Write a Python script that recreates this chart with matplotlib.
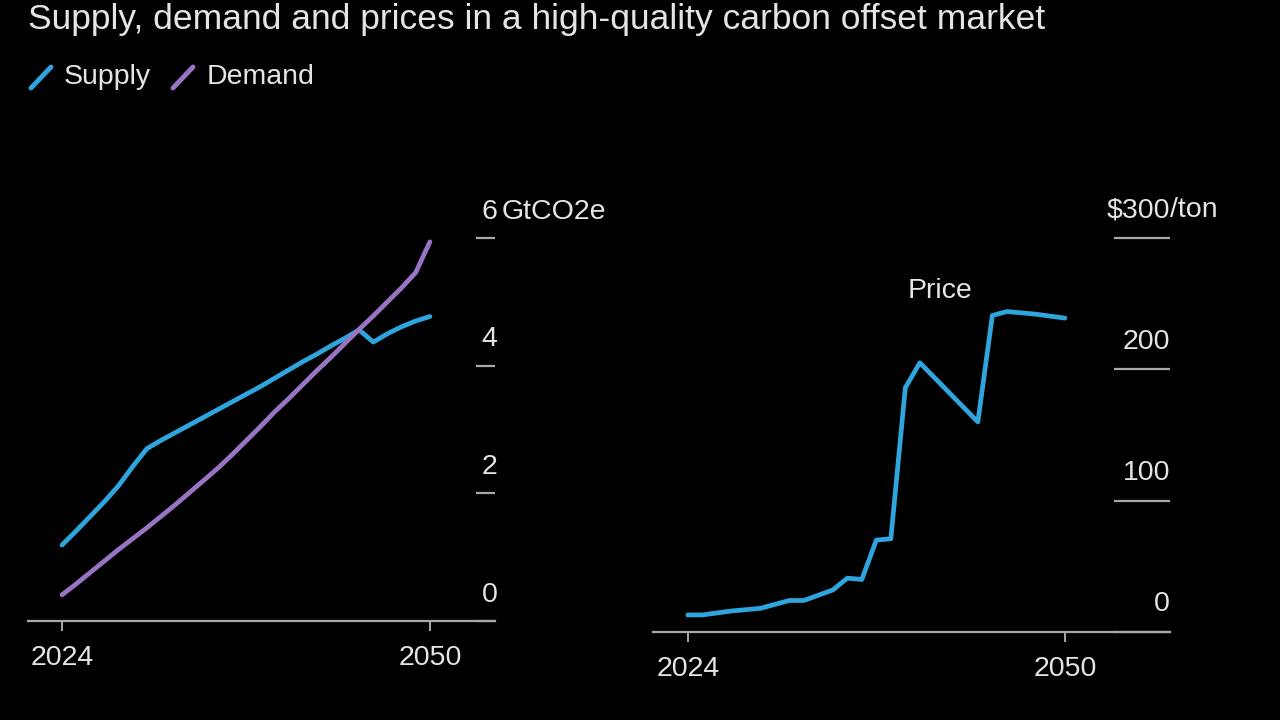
import numpy as np
import matplotlib
matplotlib.use('Agg')
import matplotlib.pyplot as plt
from matplotlib.lines import Line2D
import matplotlib.transforms as mtransforms

plt.rcParams['font.family'] = ['Liberation Sans', 'DejaVu Sans']

years = list(range(2024, 2051))
supply = [1.19, 1.41, 1.64, 1.87, 2.12, 2.42, 2.70, 2.83, 2.95, 3.07, 3.19, 3.31, 3.43,
          3.55, 3.67, 3.80, 3.93, 4.06, 4.18, 4.31, 4.43, 4.56, 4.37, 4.50, 4.61, 4.70, 4.77]
demand = [0.41, 0.58, 0.76, 0.94, 1.12, 1.29, 1.46, 1.64, 1.82, 2.01, 2.20, 2.39, 2.60,
          2.82, 3.04, 3.27, 3.48, 3.70, 3.92, 4.13, 4.35, 4.57, 4.78, 5.00, 5.22, 5.46, 5.94]
price = [13, 13, 14.5, 16, 17, 18, 21, 24, 24, 28, 32, 41, 40, 70, 71, 186, 205,
         193.75, 182.5, 171.25, 160, 241, 244, 243, 242, 240.5, 239]

vol_ticks = [0, 2, 4, 6]
price_ticks = [0, 100, 200, 300]
year_ticks = [2024, 2050]

BG = '#000000'
TXT = '#e4e4e4'
AXC = '#a8a8a8'
BLUE = '#2ea6dd'
PURPLE = '#9a74c4'
FS = 20.5
LW = 3.4

fig = plt.figure(figsize=(12.8, 7.2), dpi=100, facecolor=BG)


def style(ax, xlim, ylim, ticklen):
    ax.set_facecolor(BG)
    ax.set_xlim(*xlim)
    ax.set_ylim(*ylim)
    for s in ['left', 'right', 'top']:
        ax.spines[s].set_visible(False)
    ax.spines['bottom'].set_color(AXC)
    ax.spines['bottom'].set_linewidth(1.6)
    ax.set_xticks(year_ticks)
    ax.set_xticklabels([str(y) for y in year_ticks])
    ax.tick_params(axis='x', direction='out', length=7, width=1.4, color=AXC,
                   labelcolor=TXT, labelsize=FS, pad=10)
    ax.yaxis.tick_right()
    ax.tick_params(axis='y', direction='in', length=ticklen, width=1.6, color=AXC,
                   labelright=False, labelleft=False, pad=0)


# left panel: supply vs demand
ax1 = fig.add_axes([28 / 1280, 1 - 621 / 720, 467 / 1280, 383 / 720])
style(ax1, (2021.6, 2054.6), (0, 6), 14)
ax1.set_yticks(vol_ticks)
ax1.plot(years, supply, color=BLUE, lw=LW, clip_on=False, solid_capstyle='round')
ax1.plot(years, demand, color=PURPLE, lw=LW, clip_on=False, solid_capstyle='round')
tr1 = mtransforms.blended_transform_factory(ax1.transAxes, ax1.transData)
for v in vol_ticks:
    ax1.annotate(str(v), xy=(1.005, v), xycoords=tr1, xytext=(0, 19),
                 textcoords='offset points', ha='right', va='center',
                 color=TXT, fontsize=FS)
ax1.annotate('GtCO2e', xy=(1.005, 6), xycoords=tr1, xytext=(3, 19),
             textcoords='offset points', ha='left', va='center',
             color=TXT, fontsize=FS)

# right panel: price
ax2 = fig.add_axes([653 / 1280, 1 - 632 / 720, 517 / 1280, 394 / 720])
style(ax2, (2021.6, 2057.25), (0, 300), 40)
ax2.set_yticks(price_ticks)
ax2.plot(years, price, color=BLUE, lw=LW, clip_on=False, solid_capstyle='round')
tr2 = mtransforms.blended_transform_factory(ax2.transAxes, ax2.transData)
for v in price_ticks:
    lab = '$300' if v == 300 else str(v)
    ax2.annotate(lab, xy=(1.0, v), xycoords=tr2, xytext=(0, 20),
                 textcoords='offset points', ha='right', va='center',
                 color=TXT, fontsize=FS)
ax2.annotate('/ton', xy=(1.0, 300), xycoords=tr2, xytext=(0, 20),
             textcoords='offset points', ha='left', va='center',
             color=TXT, fontsize=FS)
ax2.text(2041.4, 260, 'Price', color=TXT, fontsize=FS, ha='center', va='center')

# title and legend
fig.text(28 / 1280, 1 - 19 / 720, 'Supply, demand and prices in a high-quality carbon offset market',
         color=TXT, fontsize=25.5, ha='left', va='center')
fig.add_artist(Line2D([31 / 1280, 51 / 1280], [1 - 88 / 720, 1 - 67 / 720],
                      color=BLUE, lw=3.5, solid_capstyle='round'))
fig.text(64 / 1280, 1 - 77 / 720, 'Supply', color=TXT, fontsize=FS, ha='left', va='center')
fig.add_artist(Line2D([173 / 1280, 193 / 1280], [1 - 88 / 720, 1 - 67 / 720],
                      color=PURPLE, lw=3.5, solid_capstyle='round'))
fig.text(207 / 1280, 1 - 77 / 720, 'Demand', color=TXT, fontsize=FS, ha='left', va='center')

fig.savefig('out.png', dpi=100, facecolor=BG)
